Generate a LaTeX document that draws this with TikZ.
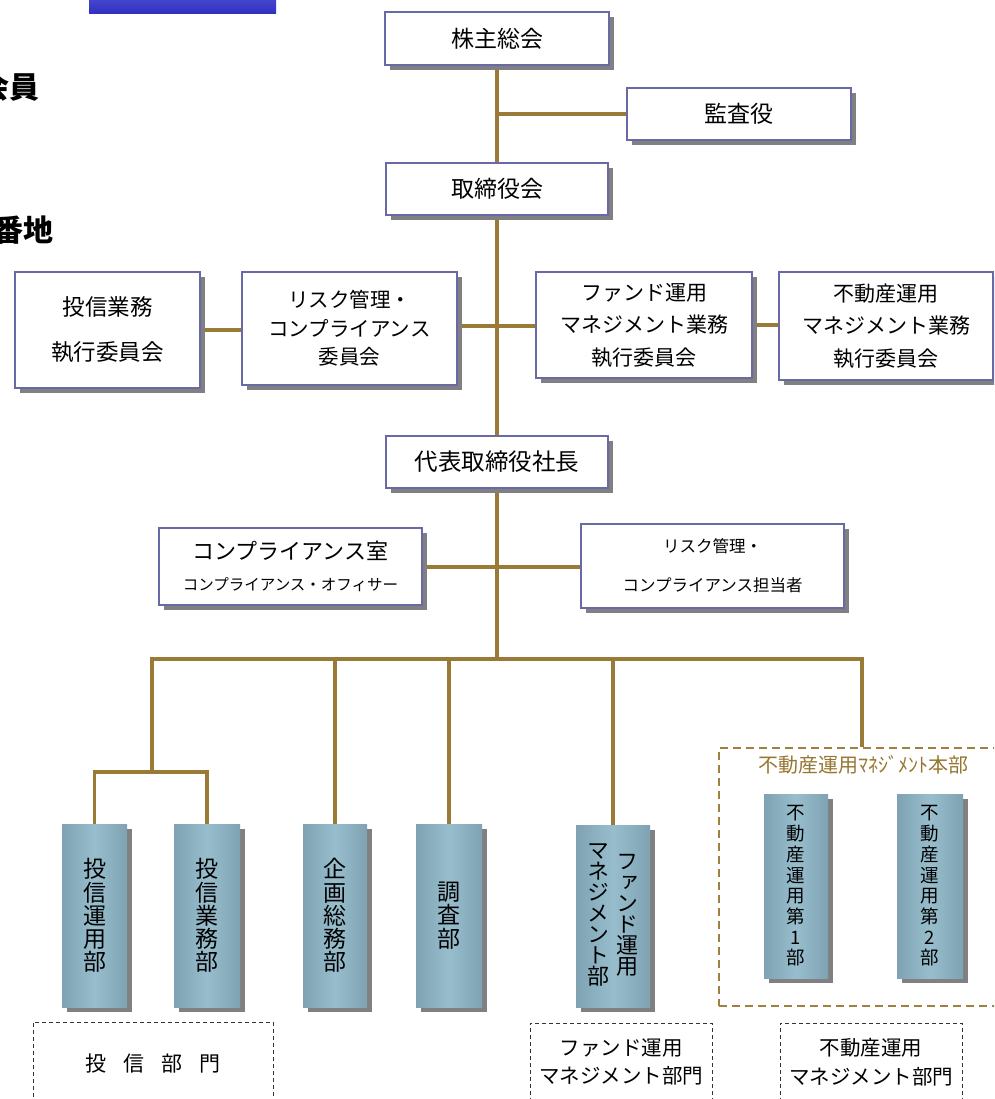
\documentclass[tikz,border=0pt]{standalone}
\usepackage{fontspec}
\setmainfont{Noto Sans CJK JP}
\newfontfamily\jpv[RawFeature=+vert]{Noto Sans CJK JP}
\usetikzlibrary{backgrounds}
\definecolor{conn}{RGB}{153,122,54}
\definecolor{boxborder}{RGB}{105,105,165}
\definecolor{shadowgray}{RGB}{128,128,130}
\definecolor{cylE}{RGB}{126,162,178}
\definecolor{cylM}{RGB}{152,190,206}
\definecolor{goldtxt}{RGB}{150,118,48}
\definecolor{golddash}{RGB}{160,128,62}
\definecolor{blueA}{RGB}{74,74,210}
\definecolor{blueB}{RGB}{48,48,190}
\newcommand{\fsz}[2]{\fontsize{#1}{#2}\selectfont}
\begin{document}
\begin{tikzpicture}[x=1pt,y=-1pt,
  conline/.style={draw=conn, line width=3.6pt},
  wbox/.style={draw=boxborder, line width=2.2pt, fill=white, inner sep=0pt, align=center,
    preaction={fill=shadowgray, transform canvas={xshift=5pt,yshift=-5pt}}},
  cyl/.style={inner sep=0pt, align=center, left color=cylE, right color=cylE, middle color=cylM,
    preaction={fill=shadowgray, transform canvas={xshift=5pt,yshift=-5pt}}},
  dbox/.style={draw=black!80, line width=0.9pt, dash pattern=on 4pt off 3pt, inner sep=0pt, align=center},
]
\useasboundingbox (0,0) rectangle (994,1099);
\clip (0,0) rectangle (994,1099);

% top-left fragments
\node[fill=blueA, top color=blueA, bottom color=blueB, minimum width=187pt, minimum height=18pt, inner sep=0pt] (bluebar) at (182.5,5) {};
\node[anchor=east, inner sep=0pt, font=\fsz{30}{32}\bfseries] (frag1) at (40,87) {会員};
\node[anchor=east, inner sep=0pt, font=\fsz{30}{32}\bfseries] (frag2) at (54,230) {番地};

% top boxes
\node[wbox, minimum width=224pt, minimum height=53pt, font=\fsz{23}{26}] (ga) at (497,38.5) {株主総会};
\node[wbox, minimum width=224pt, minimum height=52pt, font=\fsz{23}{26}] (kansa) at (739,114) {監査役};
\node[wbox, minimum width=222pt, minimum height=52pt, font=\fsz{23}{26}] (tori) at (497,189) {取締役会};

\node[wbox, minimum width=185pt, minimum height=116pt, font=\fsz{22.5}{45}] (toshin) at (107.5,330) {投信業務\\執行委員会};
\node[wbox, minimum width=215pt, minimum height=113pt, font=\fsz{20.5}{28.5}] (riskc) at (349.5,328.5) {リスク管理・\\コンプライアンス\\委員会};
\node[wbox, minimum width=216pt, minimum height=106pt, font=\fsz{21}{32.5}] (fund) at (644,325) {ファンド運用\\マネジメント業務\\執行委員会};
\node[wbox, minimum width=214pt, minimum height=108pt, font=\fsz{21}{32.5}] (fudo) at (886,326) {不動産運用\\マネジメント業務\\執行委員会};

\node[wbox, minimum width=222pt, minimum height=52pt, font=\fsz{23.5}{26}] (ceo) at (497,462) {代表取締役社長};

\node[wbox, minimum width=263pt, minimum height=77pt, font=\fsz{15.5}{31}] (comp) at (290.5,566.5) {{\fsz{22}{31}コンプライアンス室}\\コンプライアンス・オフィサー};
\node[wbox, minimum width=263pt, minimum height=84pt, font=\fsz{16.5}{39}] (riskt) at (712.5,566) {リスク管理・\\コンプライアンス担当者};

% department cylinders
\node[cyl, minimum width=65pt, minimum height=183pt, font=\fsz{23}{23.2}] (c1) at (94.5,915.5) {投\\信\\運\\用\\部};
\node[cyl, minimum width=66pt, minimum height=183pt, font=\fsz{23}{23.2}] (c2) at (207,915.5) {投\\信\\業\\務\\部};
\node[cyl, minimum width=64pt, minimum height=183pt, font=\fsz{23}{23.2}] (c3) at (335,915.5) {企\\画\\総\\務\\部};
\node[cyl, minimum width=66pt, minimum height=183pt, font=\fsz{23}{23.2}] (c4) at (449,915.5) {調\\査\\部};
\node[cyl, minimum width=74pt, minimum height=182pt] (c5) at (613,916) {};
\node[inner sep=0pt, align=center, font=\jpv\fsz{22}{21}] (c5a) at (627,915.5) {フ\\ァ\\ン\\ド\\運\\用};
\node[inner sep=0pt, align=center, font=\jpv\fsz{22}{21}] (c5b) at (598,915) {マ\\ネ\\ジ\\メ\\ン\\ト\\部};

\node[dbox, draw=golddash, line width=2pt, dash pattern=on 8pt off 5pt, minimum width=285pt, minimum height=258pt] (hq) at (861.5,877) {};
\node[inner sep=0pt, text=goldtxt, font=\fsz{20}{22}] (hqlabel) at (863.5,765) {不動産運用ﾏﾈｼﾞﾒﾝﾄ本部};
\node[cyl, minimum width=64pt, minimum height=184pt, font=\fsz{18.5}{20.7}] (c6) at (796,886) {不\\動\\産\\運\\用\\第\\1\\部};
\node[cyl, minimum width=66pt, minimum height=184pt, font=\fsz{18.5}{20.7}] (c7) at (930,886) {不\\動\\産\\運\\用\\第\\2\\部};

% bottom dashed groups
\node[dbox, minimum width=240pt, minimum height=100pt] (g1) at (153,1072) {};
\node[inner sep=0pt, font=\fsz{21}{24}] (g1t) at (153,1064) {投\hspace{17pt}信\hspace{17pt}部\hspace{17pt}門};
\node[dbox, minimum width=182pt, minimum height=100pt] (g2) at (621,1073) {};
\node[inner sep=0pt, align=center, font=\fsz{20.5}{28.5}] (g2t) at (621,1062) {ファンド運用\\マネジメント部門};
\node[dbox, minimum width=182pt, minimum height=100pt] (g3) at (871,1073) {};
\node[inner sep=0pt, align=center, font=\fsz{20.5}{28.5}] (g3t) at (871,1062) {不動産運用\\マネジメント部門};

% connectors
\coordinate (j1) at (497,114);
\coordinate (j2) at (497,326);
\coordinate (j3) at (497,567);
\coordinate (busL) at (152,659);
\coordinate (busM) at (497,659);
\coordinate (busR) at (862,659);
\coordinate (sub) at (152,772);
\begin{scope}[on background layer]
\draw[conline] (ga.south) -- (tori.north);
\draw[conline] (j1) -- (kansa.west |- j1);
\draw[conline] (tori.south) -- (ceo.north);
\draw[conline] (riskc.east |- j2) -- (fund.west |- j2);
\draw[conline] (toshin.east) -- (toshin.east -| riskc.west);
\draw[conline] (fund.east) -- (fund.east -| fudo.west);
\draw[conline] (ceo.south) -- (busM);
\draw[conline] (comp.east |- j3) -- (riskt.west |- j3);
\draw[conline, line cap=rect] (busL) -- (busR);
\draw[conline] (busL) -- (sub);
\draw[conline, line join=miter] (c1.north) -- (c1.north |- sub) -- (c2.north |- sub) -- (c2.north);
\draw[conline] (c3.north |- busL) -- (c3.north);
\draw[conline] (c4.north |- busL) -- (c4.north);
\draw[conline] (c5.north |- busL) -- (c5.north);
\draw[conline] (busR) -- (busR |- hq.north);
\end{scope}
\end{tikzpicture}
\end{document}
